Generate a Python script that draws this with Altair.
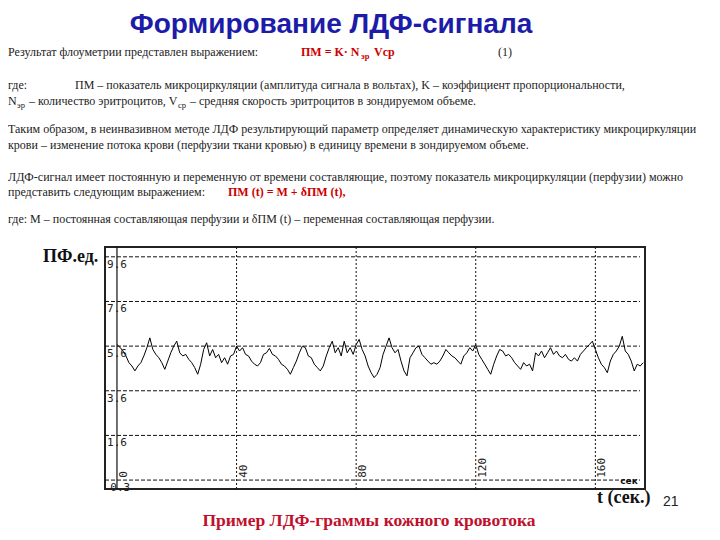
import altair as alt
import pandas as pd

# ---------------- data ----------------
pf_values = [
    5.67, 5.55, 5.38, 5.16, 4.86, 4.71, 4.49, 4.71, 4.86, 5.16, 5.53, 5.97, 5.45, 5.23, 5.08,
    4.86, 4.56, 4.93, 5.30, 5.60, 5.82, 5.30, 5.16, 5.23, 5.01, 4.86, 4.64, 4.34, 4.79, 5.45,
    5.75, 5.16, 5.45, 5.08, 5.23, 4.86, 5.08, 4.79, 5.16, 5.23, 5.60, 5.38, 5.53, 5.23,
    5.16, 4.93, 4.79, 4.71, 4.86, 5.23, 5.30, 5.50, 5.23, 5.16, 5.01, 4.79, 4.71, 4.56, 4.34,
    4.64, 4.93, 5.30, 5.60, 5.53, 5.16, 5.08, 4.79, 4.64, 4.49, 4.71, 5.16, 5.53, 5.82, 5.30,
    5.53, 5.16, 5.82, 5.30, 5.53, 5.23, 5.67, 5.90, 5.45, 5.16, 4.71, 4.41, 4.19, 4.34,
    4.64, 5.23, 5.60, 5.97, 5.53, 5.30, 5.45, 4.93, 4.49, 4.27, 5.08, 5.30, 5.53, 5.60, 5.23,
    5.08, 4.93, 4.79, 4.86, 4.79, 4.93, 5.16, 5.45, 5.30, 5.16, 5.08, 4.93, 4.79, 5.16, 5.30,
    5.53, 5.38, 5.67, 5.23, 5.01, 4.79, 4.56, 4.34, 4.79, 5.16, 5.45, 5.38, 5.16,
    5.23, 5.08, 4.86, 4.71, 4.56, 4.86, 4.71, 4.79, 4.49, 5.30, 5.16, 5.38, 5.08, 5.30, 5.53,
    5.23, 5.38, 5.16, 5.08, 5.23, 5.01, 4.93, 5.08, 4.93, 5.23, 5.38, 5.53, 5.67, 5.82, 5.45,
    5.08, 4.79, 4.64, 4.41, 4.93, 5.23, 5.38, 5.60, 6.04, 5.38, 5.23, 4.93, 4.49, 4.79, 4.71, 4.86,
]
t_seconds = list(range(len(pf_values)))

y_grid_values = [9.6, 7.6, 5.6, 3.6, 1.6, -0.4]
y_tick_labels = ["9.6", "7.6", "5.6", "3.6", "1.6", "-0.3"]
x_grid_values = [40, 80, 120, 160]
x_tick_values = [0, 40, 80, 120, 160]
x_tick_labels = ["0", "40", "80", "120", "160"]

# ---------------- layout ----------------
W, H = 540, 242
OX, OY = 105, 247  # page position of plot area

x_scale = alt.Scale(domain=[-4, 176.6], nice=False, zero=False)
y_scale = alt.Scale(domain=[-0.8, 10.04], nice=False, zero=False)

sig = pd.DataFrame({"t": t_seconds, "v": pf_values})
hg = pd.DataFrame({"v": y_grid_values, "lab": y_tick_labels, "pos": [0] * len(y_grid_values)})
vg = pd.DataFrame({"t": x_grid_values})
xl = pd.DataFrame({"t": x_tick_values, "lab": x_tick_labels, "yy": [-0.3] * len(x_tick_values)})
ax0 = pd.DataFrame({"t": [0]})

hgrid = alt.Chart(hg).mark_rule(color="#111", strokeDash=[4, 2], strokeWidth=1).encode(
    y=alt.Y("v:Q", scale=y_scale, axis=None), x=alt.value(0), x2=alt.value(535))
vgrid = alt.Chart(vg).mark_rule(color="#111", strokeDash=[2, 2], strokeWidth=1).encode(
    x=alt.X("t:Q", scale=x_scale, axis=None))
axis_line = alt.Chart(ax0).mark_rule(color="#111", strokeWidth=1.2).encode(
    x=alt.X("t:Q", scale=x_scale, axis=None))
line = alt.Chart(sig).mark_line(color="#000", strokeWidth=1).encode(
    x=alt.X("t:Q", scale=x_scale, axis=None), y=alt.Y("v:Q", scale=y_scale, axis=None))
ylab = alt.Chart(hg).mark_text(font="DejaVu Sans Mono", fontSize=11, color="#222",
                               align="center", baseline="middle", dy=8).encode(
    x=alt.X("pos:Q", scale=x_scale, axis=None), y=alt.Y("v:Q", scale=y_scale, axis=None), text="lab:N")
xlab = alt.Chart(xl).mark_text(font="DejaVu Sans Mono", fontSize=11, color="#222", angle=270,
                               align="left", baseline="top", dy=1).encode(
    x=alt.X("t:Q", scale=x_scale, axis=None), y=alt.Y("yy:Q", scale=y_scale, axis=None), text="lab:N")

styles = {
    "title": dict(font="Liberation Sans", fontSize=28, fontWeight="bold", color="#1c1ca8", align="center"),
    "body": dict(font="Liberation Serif", fontSize=12, color="#222", align="left"),
    "sub": dict(font="Liberation Serif", fontSize=8.5, color="#222", align="left"),
    "red": dict(font="Liberation Serif", fontSize=12, fontWeight="bold", color="#cc0000", align="left"),
    "redsub": dict(font="Liberation Serif", fontSize=8.5, fontWeight="bold", color="#cc0000", align="left"),
    "label": dict(font="Liberation Serif", fontSize=18, fontWeight="bold", color="#111", align="left"),
    "caption": dict(font="Liberation Serif", fontSize=17.5, fontWeight="bold", color="#c0102c", align="center"),
    "page": dict(font="Liberation Sans", fontSize=14, color="#222", align="left"),
    "sek": dict(font="DejaVu Sans", fontSize=9, fontWeight="bold", color="#111", align="center"),
}

texts = [
    ("Формирование ЛДФ-сигнала", 331, 25, "title"),
    ("Результат флоуметрии представлен выражением:", 8, 52, "body"),
    ("ПМ = K· N", 301, 52, "red"),
    ("эр", 361, 56, "redsub"),
    ("Vср", 374, 52, "red"),
    ("(1)", 498, 52, "body"),
    ("где:", 8, 85, "body"),
    ("ПМ – показатель микроциркуляции (амплитуда сигнала в вольтах), K – коэффициент пропорциональности,", 75, 85, "body"),
    ("N", 8, 101, "body"),
    ("эр", 17, 105, "sub"),
    ("– количество эритроцитов, V", 29, 101, "body"),
    ("ср", 178, 105, "sub"),
    ("– средняя скорость эритроцитов в зондируемом объеме.", 190, 101, "body"),
    ("Таким образом, в неинвазивном методе ЛДФ результирующий параметр определяет динамическую характеристику микроциркуляции", 8, 129, "body"),
    ("крови – изменение потока крови (перфузии ткани кровью) в единицу времени в зондируемом объеме.", 8, 145, "body"),
    ("ЛДФ-сигнал имеет постоянную и переменную от времени составляющие, поэтому показатель микроциркуляции (перфузии) можно", 8, 177, "body"),
    ("представить следующим выражением:", 8, 192, "body"),
    ("ПМ (t) = M + δПМ (t),", 228, 192, "red"),
    ("где: M – постоянная составляющая перфузии и δПМ (t) – переменная составляющая перфузии.", 8, 219, "body"),
    ("ПФ.ед.", 43, 257, "label"),
    ("t (сек.)", 597, 498, "label"),
    ("21", 663, 502, "page"),
    ("Пример ЛДФ-граммы кожного кровотока", 369, 521, "caption"),
    ("сек", 629, 481, "sek"),
]

text_layers = []
for s, X, Y, key in texts:
    text_layers.append(
        alt.Chart(pd.DataFrame({"s": [s]})).mark_text(baseline="middle", **styles[key]).encode(
            x=alt.value(X - OX), y=alt.value(Y - OY), text="s:N")
    )

chart = alt.layer(hgrid, vgrid, axis_line, line, ylab, xlab, *text_layers).properties(
    width=W, height=H,
    padding={"left": OX - 8, "top": OY - 8, "right": 704 - (OX - 8) - W, "bottom": 524 - (OY - 8) - H},
    autosize=alt.AutoSizeParams(type="none"),
    background="white",
).configure_view(stroke="#222", strokeWidth=2)

chart.save("out.html", embed_options={"renderer": "svg", "actions": False})
